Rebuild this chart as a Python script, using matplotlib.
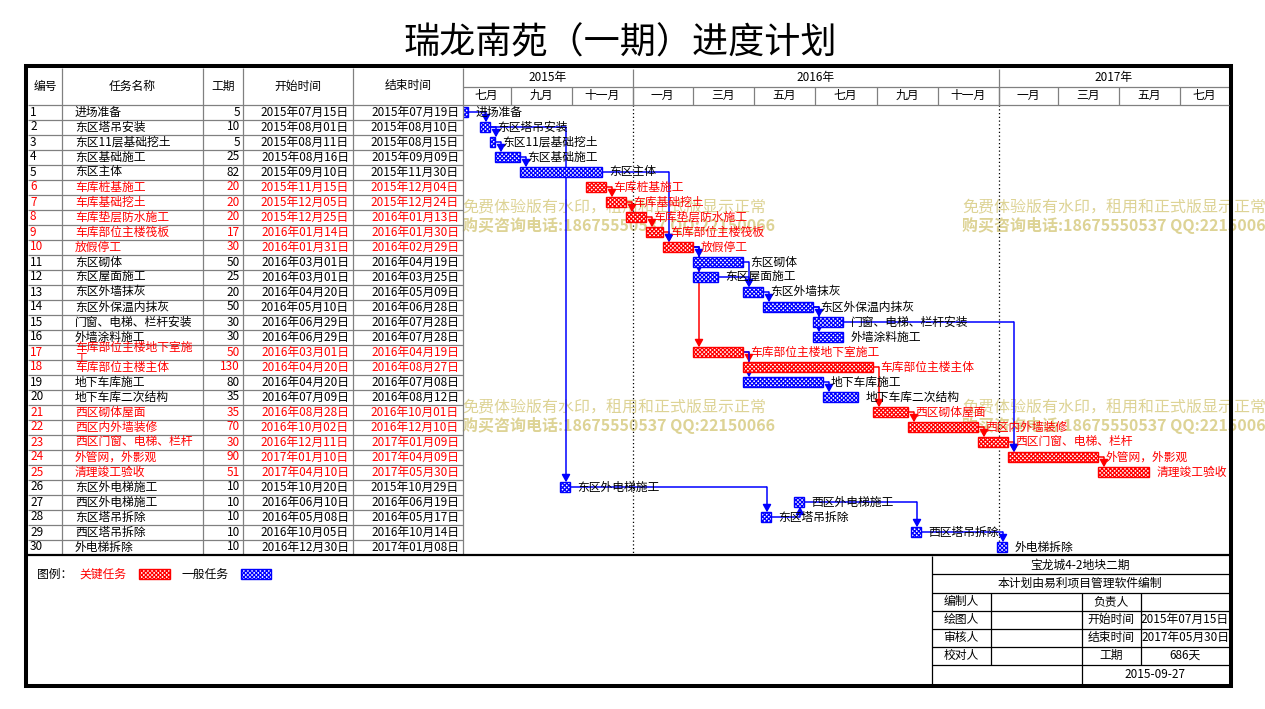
import datetime as dt
import matplotlib
matplotlib.use("Agg")
from matplotlib import pyplot as plt
from matplotlib.patches import Rectangle
import matplotlib.dates as mdates

plt.rcParams['font.family'] = ['Noto Sans CJK SC', 'DejaVu Sans']
plt.rcParams['hatch.linewidth'] = 0.9

title = "瑞龙南苑（一期）进度计划"
task_names = ["进场准备", "东区塔吊安装", "东区11层基础挖土", "东区基础施工", "东区主体",
              "车库桩基施工", "车库基础挖土", "车库垫层防水施工", "车库部位主楼筏板", "放假停工",
              "东区砌体", "东区屋面施工", "东区外墙抹灰", "东区外保温内抹灰", "门窗、电梯、栏杆安装",
              "外墙涂料施工", "车库部位主楼地下室施工", "车库部位主楼主体", "地下车库施工", "地下车库二次结构",
              "西区砌体屋面", "西区内外墙装修", "西区门窗、电梯、栏杆", "外管网，外影观", "清理竣工验收",
              "东区外电梯施工", "西区外电梯施工", "东区塔吊拆除", "西区塔吊拆除", "外电梯拆除"]
durations = [5, 10, 5, 25, 82, 20, 20, 20, 17, 30, 50, 25, 20, 50, 30,
             30, 50, 130, 80, 35, 35, 70, 30, 90, 51, 10, 10, 10, 10, 10]
start_dates = ["2015-07-15", "2015-08-01", "2015-08-11", "2015-08-16", "2015-09-10",
               "2015-11-15", "2015-12-05", "2015-12-25", "2016-01-14", "2016-01-31",
               "2016-03-01", "2016-03-01", "2016-04-20", "2016-05-10", "2016-06-29",
               "2016-06-29", "2016-03-01", "2016-04-20", "2016-04-20", "2016-07-09",
               "2016-08-28", "2016-10-02", "2016-12-11", "2017-01-10", "2017-04-10",
               "2015-10-20", "2016-06-10", "2016-05-08", "2016-10-05", "2016-12-30"]
end_dates = ["2015-07-19", "2015-08-10", "2015-08-15", "2015-09-09", "2015-11-30",
             "2015-12-04", "2015-12-24", "2016-01-13", "2016-01-30", "2016-02-29",
             "2016-04-19", "2016-03-25", "2016-05-09", "2016-06-28", "2016-07-28",
             "2016-07-28", "2016-04-19", "2016-08-27", "2016-07-08", "2016-08-12",
             "2016-10-01", "2016-12-10", "2017-01-09", "2017-04-09", "2017-05-30",
             "2015-10-29", "2016-06-19", "2016-05-17", "2016-10-14", "2017-01-08"]
critical_ids = [6, 7, 8, 9, 10, 17, 18, 21, 22, 23, 24, 25]
links = [(1, 2), (2, 3), (2, 26), (3, 4), (4, 5), (5, 10), (6, 7), (7, 8), (8, 9), (9, 10),
         (10, 11), (10, 12), (10, 17), (11, 13), (12, 13), (13, 14), (14, 15), (14, 16),
         (15, 24), (17, 18), (17, 19), (18, 21), (19, 20), (21, 22), (22, 23), (23, 24),
         (24, 25), (26, 28), (28, 27), (27, 29), (29, 30)]

header_cols = ["编号", "任务名称", "工期", "开始时间", "结束时间"]
month_names = {1: "一月", 3: "三月", 5: "五月", 7: "七月", 9: "九月", 11: "十一月"}
view_start = "2015-07-15"
view_days = 766
legend_labels = ["关键任务", "一般任务"]
project_name = "宝龙城4-2地块二期"
software_note = "本计划由易利项目管理软件编制"
print_date = "2015-09-27"
watermark = ["免费体验版有水印，租用和正式版显示正常", "购买咨询电话:18675550537 QQ:22150066"]

RED = "#ff0000"
BLUE = "#0000ff"
GRID = "#808080"
W, H = 1265, 709
HATCH = 'xxxxxxxx'


def to_date(s):
    return dt.datetime.strptime(s, "%Y-%m-%d")


def cn_date(d):
    return f"{d.year}年{d.month:02d}月{d.day:02d}日"


def add_months(d, k):
    m = d.month - 1 + k
    return dt.datetime(d.year + m // 12, m % 12 + 1, 1)


starts = [to_date(s) for s in start_dates]
ends = [to_date(s) for s in end_dates]
start_num = mdates.date2num(starts)
end_num = mdates.date2num(ends) + 1
is_crit = [(i + 1) in critical_ids for i in range(len(task_names))]
colors = [RED if c else BLUE for c in is_crit]
text_colors = [RED if c else 'black' for c in is_crit]
n = len(task_names)

fig = plt.figure(figsize=(W / 100, H / 100), dpi=100)

# pixel layout
row_top, row_h = 104.5, 15.0
g_left, g_right = 462.5, 1228.5


def fx(px):
    return px / W


def fy(py):
    return 1 - py / H


# watermark layer
bg = fig.add_axes([0, 0, 1, 1], zorder=0)
bg.set_xlim(0, W)
bg.set_ylim(H, 0)
bg.axis('off')
for wx in (462, 962):
    for wy in (208, 408):
        bg.text(wx, wy, watermark[0], fontsize=11.5, color="#ddd395", va='center', ha='left')
        bg.text(wx, wy + 18, watermark[1], fontsize=11.5, color="#ddd395", va='center', ha='left',
                fontweight='bold')

# gantt area
gx = fig.add_axes([fx(g_left), fy(row_top + n * row_h), fx(g_right - g_left), n * row_h / H], zorder=1)
gx.patch.set_visible(False)
x0 = mdates.date2num(to_date(view_start))
gx.set_xlim(x0, x0 + view_days)
gx.set_ylim(n + 0.5, 0.5)
gx.axis('off')

rows = list(range(1, n + 1))
bar_h = 0.62
gx.barh(rows, end_num - start_num, left=start_num, height=bar_h, facecolor='white',
        edgecolor=colors, hatch=HATCH, linewidth=1, zorder=3)

for i in range(n):
    gx.text(end_num[i] + 8, rows[i], task_names[i], fontsize=8.5, color=text_colors[i],
            va='center', ha='left', zorder=4, clip_on=False)

# links: red first, blue on top
ordered = sorted(links, key=lambda l: 0 if (is_crit[l[0] - 1] and is_crit[l[1] - 1]) else 1)
for p, s in ordered:
    c = RED if (is_crit[p - 1] and is_crit[s - 1]) else BLUE
    xs = end_num[p - 1]
    xa = start_num[s - 1] + 6.5
    gx.plot([xs, xa], [p, p], color=c, lw=1.1, zorder=2, solid_capstyle='butt')
    tip = s - bar_h / 2 if s > p else s + bar_h / 2
    gx.annotate('', xy=(xa, tip), xytext=(xa, p),
                arrowprops=dict(arrowstyle='-|>,head_length=0.45,head_width=0.25', color=c, lw=1.1,
                                shrinkA=0, shrinkB=0), zorder=2)

# year boundaries (dotted)
years = range(to_date(view_start).year + 1, to_date(view_start).year + 3)
year_bounds = [mdates.date2num(dt.datetime(y, 1, 1)) for y in years]
gx.vlines(year_bounds, 0.5, n + 0.5, colors='black', linestyles=(0, (1, 2)), lw=0.9, zorder=1)

# time scale header
hx = fig.add_axes([fx(g_left), fy(row_top), fx(g_right - g_left), 36 / H], sharex=gx, zorder=1)
hx.set_ylim(0, 2)
hx.axis('off')
hx.axhline(1, color=GRID, lw=0.9)
lo, hi = gx.get_xlim()
d = dt.datetime(2015, 7, 1)
while mdates.date2num(d) < hi:
    d1 = add_months(d, 2)
    a, b = max(mdates.date2num(d), lo), min(mdates.date2num(d1), hi)
    hx.text((a + b) / 2, 0.5, month_names[d.month], fontsize=8.5, ha='center', va='center')
    if mdates.date2num(d1) < hi:
        hx.vlines(mdates.date2num(d1), 0, 1, colors=GRID, lw=0.9)
    d = d1
for y in range(2015, 2018):
    a = max(mdates.date2num(dt.datetime(y, 1, 1)), lo)
    b = min(mdates.date2num(dt.datetime(y + 1, 1, 1)), hi)
    hx.text((a + b) / 2, 1.5, f"{y}年", fontsize=8.5, ha='center', va='center')
hx.vlines(year_bounds, 0, 2, colors=GRID, lw=0.9)

# table / frame layer
ax = fig.add_axes([0, 0, 1, 1], zorder=5)
ax.set_xlim(0, W)
ax.set_ylim(H, 0)
ax.axis('off')

col_lines = [62, 203, 243, 353, 463]
for cx in col_lines:
    ax.vlines(cx, 68, row_top + n * row_h, colors=GRID, lw=0.9)
for i in range(1, n):
    ax.hlines(row_top + i * row_h, 28, 463, colors=GRID, lw=0.9)
ax.hlines(row_top, 28, 1229, colors=GRID, lw=0.9)

head_x = [45, 132, 223, 298, 408]
for hxp, h in zip(head_x, header_cols):
    ax.text(hxp, 86, h, fontsize=8.5, ha='center', va='center')

for i in range(n):
    yc = row_top + (i + 0.5) * row_h
    c = text_colors[i]
    ax.text(30, yc, str(i + 1), fontsize=8.5, color=c, ha='left', va='center')
    name = task_names[i]
    if len(name) > 10:
        ax.text(75, yc - 5, name[:10], fontsize=8.5, color=c, ha='left', va='center')
        ax.text(75, yc + 6, name[10:], fontsize=8.5, color=c, ha='left', va='center')
    else:
        ax.text(75, yc, name, fontsize=8.5, color=c, ha='left', va='center')
    ax.text(240, yc, str(durations[i]), fontsize=8.5, color=c, ha='right', va='center')
    ax.text(349, yc, cn_date(starts[i]), fontsize=8.5, color=c, ha='right', va='center')
    ax.text(459, yc, cn_date(ends[i]), fontsize=8.5, color=c, ha='right', va='center')

ax.hlines(555, 28, 1229, colors='black', lw=1.6)

# legend
ax.text(37, 574, "图例：", fontsize=8.5, ha='left', va='center')
ax.text(79, 574, legend_labels[0], fontsize=8.5, color=RED, ha='left', va='center')
ax.add_patch(Rectangle((139, 569), 31, 10, facecolor='white', edgecolor=RED, hatch=HATCH, lw=1))
ax.text(181, 574, legend_labels[1], fontsize=8.5, ha='left', va='center')
ax.add_patch(Rectangle((241, 569), 30, 10, facecolor='white', edgecolor=BLUE, hatch=HATCH, lw=1))

# info box
proj_start = min(starts)
proj_end = max(ends)
total_days = (proj_end - proj_start).days + 1
ax.vlines(932, 556, 684, colors='black', lw=0.9)
for yl in (574, 592.7, 610.7, 628.7, 646.7, 665):
    ax.hlines(yl, 932, 1229, colors='black', lw=0.9)
ax.vlines([991, 1141], 592.7, 665, colors='black', lw=0.9)
ax.vlines(1082, 592.7, 684, colors='black', lw=0.9)
ax.text(1080, 565, project_name, fontsize=8.5, ha='center', va='center')
ax.text(1080, 583, software_note, fontsize=8.5, ha='center', va='center')
info_rows = [("编制人", "负责人", ""), ("绘图人", "开始时间", cn_date(proj_start)),
             ("审核人", "结束时间", cn_date(proj_end)), ("校对人", "工期", f"{total_days}天")]
for k, (l1, l2, v) in enumerate(info_rows):
    yc = 601.7 + k * 18
    ax.text(961, yc, l1, fontsize=8.5, ha='center', va='center')
    ax.text(1111, yc, l2, fontsize=8.5, ha='center', va='center')
    ax.text(1185, yc, v, fontsize=8.5, ha='center', va='center')
ax.text(1155, 674, print_date, fontsize=8.5, ha='center', va='center')

# outer frame and title
ax.add_patch(Rectangle((26, 66), 1205, 620, fill=False, edgecolor='black', lw=2.9))
ax.text(620, 43, title, fontsize=26, fontweight='normal', ha='center', va='center')

fig.savefig("out.png", dpi=100)
